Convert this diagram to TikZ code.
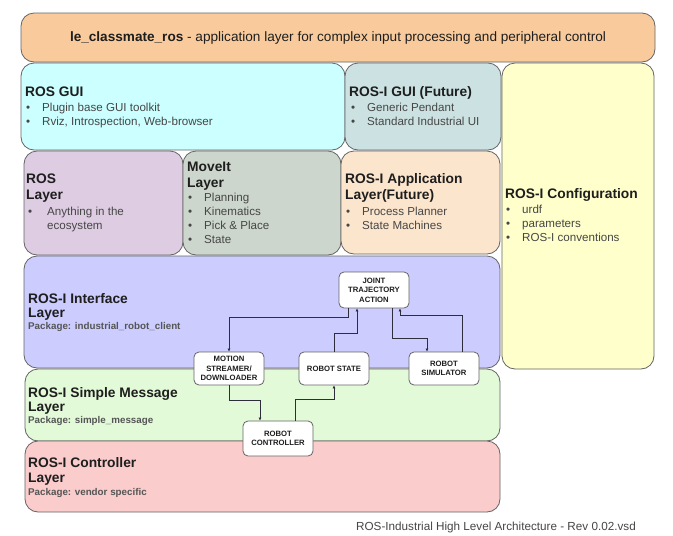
\documentclass[tikz,border=0pt]{standalone}
\usepackage{fontspec}
\setmainfont{Liberation Sans}
\usetikzlibrary{arrows.meta}
\definecolor{cOrange}{RGB}{249,203,156}
\definecolor{cCyan}{RGB}{204,255,255}
\definecolor{cTeal}{RGB}{204,226,226}
\definecolor{cYellow}{RGB}{255,255,204}
\definecolor{cPurple}{RGB}{222,204,226}
\definecolor{cGrey}{RGB}{204,214,204}
\definecolor{cPeach}{RGB}{252,229,205}
\definecolor{cLav}{RGB}{204,204,255}
\definecolor{cGreen}{RGB}{226,250,216}
\definecolor{cPink}{RGB}{250,204,204}
\definecolor{bordergrey}{RGB}{100,100,100}
\definecolor{headcol}{RGB}{30,30,30}
\definecolor{bulcol}{RGB}{70,70,70}
\definecolor{pkcol}{RGB}{85,85,85}
\definecolor{arrcol}{RGB}{45,45,60}
\begin{document}
\begin{tikzpicture}[x=1pt,y=-1pt,
  layer/.style={draw=bordergrey, line width=0.8pt, rounded corners=13pt},
  hd/.style={anchor=base west, inner sep=0pt, font=\fontsize{13.8}{16}\selectfont\bfseries, text=headcol},
  bl/.style={anchor=base west, inner sep=0pt, font=\fontsize{11.6}{14}\selectfont, text=bulcol},
  pk/.style={anchor=base west, inner sep=0pt, font=\fontsize{9.8}{11}\selectfont\bfseries, text=pkcol},
  ib/.style={draw=bordergrey, line width=0.8pt, fill=white, rounded corners=5pt, minimum width=70pt, align=center, font=\fontsize{7.7}{9.5}\selectfont\bfseries, text=headcol, inner sep=1pt},
  arr/.style={draw=arrcol, line width=0.7pt, -{Latex[length=3pt,width=3pt]}}
]
\useasboundingbox (0,0) rectangle (673,536);
\fill[white] (0,0) rectangle (673,536);
\newcommand{\bul}{\makebox[16pt][l]{\textbullet}}
% layers
\draw[layer, fill=cOrange] (21,13) rectangle (655,62);
\draw[layer, fill=cCyan] (21,63) rectangle (345,150);
\draw[layer, fill=cTeal] (345,63) rectangle (501,150);
\draw[layer, fill=cYellow] (502,63) rectangle (654,369);
\draw[layer, fill=cPurple] (24,151) rectangle (183,255);
\draw[layer, fill=cGrey] (183,151) rectangle (341,255);
\draw[layer, fill=cPeach] (341,151) rectangle (500,254);
\draw[layer, fill=cLav] (24,256) rectangle (500,368);
\draw[layer, fill=cGreen] (25,369) rectangle (500,441);
\draw[layer, fill=cPink] (25,441) rectangle (500,512);
% title
\node[anchor=base, inner sep=0pt, font=\fontsize{13.6}{16}\selectfont, text=headcol] (title) at (338,41)
  {\textbf{le\_classmate\_ros} - application layer for complex input processing and peripheral control};
% ROS GUI
\node[hd] (rg0) at (25,96) {ROS GUI};
\node[bl] (rg1) at (26,111) {\bul Plugin base GUI toolkit};
\node[bl] (rg2) at (26,125) {\bul Rviz, Introspection, Web-browser};
% ROS-I GUI
\node[hd] (ig0) at (349,96) {ROS-I GUI (Future)};
\node[bl] (ig1) at (351,111) {\bul Generic Pendant};
\node[bl] (ig2) at (351,125) {\bul Standard Industrial UI};
% ROS Layer
\node[hd] (rl0) at (26,183) {ROS};
\node[hd] (rl1) at (26,199) {Layer};
\node[bl] (rl2) at (28,215) {\makebox[19pt][l]{\textbullet}Anything in the};
\node[bl] (rl3) at (47,229) {ecosystem};
% MoveIt
\node[hd] (mv0) at (187,171) {MoveIt};
\node[hd] (mv1) at (187,187) {Layer};
\node[bl] (mv2) at (188,201) {\bul Planning};
\node[bl] (mv3) at (188,215) {\bul Kinematics};
\node[bl] (mv4) at (188,229) {\bul Pick \& Place};
\node[bl] (mv5) at (188,243) {\bul State};
% Application
\node[hd] (ap0) at (345,183) {ROS-I Application};
\node[hd] (ap1) at (345,199) {Layer(Future)};
\node[bl] (ap2) at (346,215) {\bul Process Planner};
\node[bl] (ap3) at (346,229) {\bul State Machines};
% Configuration
\node[hd] (cf0) at (505,198) {ROS-I Configuration};
\node[bl] (cf1) at (506,213) {\bul urdf};
\node[bl] (cf2) at (506,227) {\bul parameters};
\node[bl] (cf3) at (506,241) {\bul ROS-I conventions};
% Interface
\node[hd] (if0) at (28,303) {ROS-I Interface};
\node[hd] (if1) at (28,317) {Layer};
\node[pk] (if2) at (28,329) {Package: industrial\_robot\_client};
% Simple message
\node[hd] (sm0) at (28,397) {ROS-I Simple Message};
\node[hd] (sm1) at (28,411) {Layer};
\node[pk] (sm2) at (28,423) {Package: simple\_message};
% Controller
\node[hd] (ct0) at (28,467) {ROS-I Controller};
\node[hd] (ct1) at (28,482) {Layer};
\node[pk] (ct2) at (28,495) {Package: vendor specific};
% footer
\node[anchor=base east, inner sep=0pt, font=\fontsize{11.7}{14}\selectfont, text=bulcol] (foot) at (636,530)
  {ROS-Industrial High Level Architecture - Rev 0.02.vsd};
% inner boxes
\node[ib, minimum height=36pt] (JTA) at (374,290) {JOINT\\TRAJECTORY\\ACTION};
\node[ib, minimum height=33pt] (MOT) at (229,368.5) {MOTION\\STREAMER/\\DOWNLOADER};
\node[ib, minimum height=33pt] (STA) at (334,368.5) {ROBOT STATE};
\node[ib, minimum height=33pt] (SIM) at (444,368.5) {ROBOT\\SIMULATOR};
\node[ib, minimum height=35pt] (CTL) at (278,438.5) {ROBOT\\CONTROLLER};
% connectors
\draw[arr] ([xshift=-26pt]JTA.south) -- ++(0,9) -| (MOT.north);
\draw[arr] (STA.north) -- ++(0,-18) -| ([xshift=-17pt]JTA.south);
\draw[arr] ([xshift=18pt]JTA.south) -- ++(0,30) -| ([xshift=-17pt]SIM.north);
\draw[arr] ([xshift=18pt]SIM.north) -- ++(0,-36) -| ([xshift=26pt]JTA.south);
\draw[arr] (MOT.south) -- ++(0,15) -| ([xshift=-18pt]CTL.north);
\draw[arr] ([xshift=17pt]CTL.north) -- ++(0,-21) -| (STA.south);
\end{tikzpicture}
\end{document}
